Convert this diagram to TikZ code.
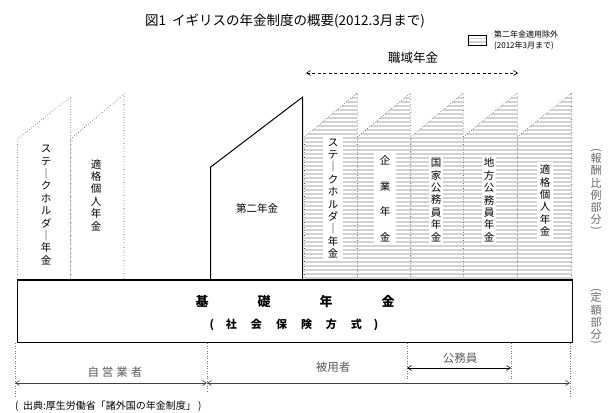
\documentclass[tikz,border=0pt]{standalone}
\usepackage{fontspec}
\setmainfont{Noto Sans CJK JP}
\usetikzlibrary{arrows.meta}
\newcommand\jpvbar{｜}
\tikzset{
  hatchline/.style={draw=black!18, line width=1.1pt},
  coledge/.style={draw=black!75, dotted, line width=0.6pt},
  secondcol/.style={draw=black, line width=1pt},
  basebox/.style={draw=black, line width=1.2pt, inner sep=0pt},
  coltext/.style={align=center, font=\fontsize{10.5}{12.4}\selectfont, inner sep=0pt},
  whitetext/.style={coltext, fill=white, inner xsep=5pt, inner ysep=3pt},
  sidelabel/.style={align=center, text=black!60, font=\fontsize{11}{12.2}\selectfont, inner sep=0pt},
  sideparen/.style={text=black!60, font=\fontsize{11}{12}\selectfont, inner sep=0pt, rotate=-90},
  graylabel/.style={text=black!65, font=\fontsize{11.5}{13}\selectfont, inner sep=0pt},
  barrow/.style={draw=black!75, line width=0.6pt, {Straight Barb[length=4pt,width=5pt]}-{Straight Barb[length=4pt,width=5pt]}},
  guide/.style={draw=black!55, dotted, line width=0.5pt}
}
\begin{document}
\begin{tikzpicture}[x=1pt,y=-1pt]
\useasboundingbox (0,0) rectangle (615,412);
% title
\node[font=\fontsize{13.5}{15}\selectfont] (title) at (285,21) {図1\ \ イギリスの年金制度の概要(2012.3月まで)};
% legend
\begin{scope}
  \clip (468,35.5) rectangle (486,45.5);
  \foreach \y in {38.5,42} \draw[hatchline] (468,\y) -- (486,\y);
\end{scope}
\draw[black, line width=0.6pt] (468,35.5) rectangle (486,45.5);
\node[anchor=west, align=left, font=\fontsize{8}{11}\selectfont, inner sep=0pt] (legend) at (494,40) {第二年金適用除外\\(2012年3月まで)};
% occupational pensions
\node[font=\fontsize{12.5}{14}\selectfont] (shokuiki) at (413,58) {職域年金};
\coordinate (sL) at (306,73);
\coordinate (sR) at (518,73);
\draw[barrow, draw=black, dashed, dash pattern=on 3pt off 2.5pt] (sL) -- (sR);
% unhatched columns
\draw[coledge] (17.3,280) -- (17.3,139) -- (70.7,97) -- (70.7,280);
\draw[coledge] (70.7,280) -- (70.7,139) -- (124,94) -- (124,280);
% second pension
\draw[secondcol] (210.7,280) -- (210.7,167) -- (302.7,97) -- (302.7,280);
% hatched columns
\foreach \a/\b in {304.5/357.3, 357.3/410.7, 410.7/463.3, 463.3/517.3, 517.3/571.7} {
  \begin{scope}
    \clip (\a,280) -- (\a,137) -- (\b,93) -- (\b,280) -- cycle;
    \foreach \y in {94,98,...,280} \draw[hatchline] (\a,\y) -- (\b,\y);
  \end{scope}
  \draw[coledge] (\a,280) -- (\a,137) -- (\b,93) -- (\b,280);
}
% column texts
\node[coltext] (c1) at (46,205) {ス\\テ\\\jpvbar\\ク\\ホ\\ル\\ダ\\\jpvbar\\年\\金};
\node[coltext] (c2) at (96,195) {適\\格\\個\\人\\年\\金};
\node[coltext] (c2nd) at (257,208) {第二年金};
\node[whitetext] (c3) at (333,198.5) {ス\\テ\\\jpvbar\\ク\\ホ\\ル\\ダ\\\jpvbar\\年\\金};
\node[whitetext, inner xsep=6pt, font=\fontsize{10.5}{25.6}\selectfont] (c4) at (385,199) {企\\業\\年\\金};
\node[whitetext, inner xsep=2pt] (c5) at (436,200) {国\\家\\公\\務\\員\\年\\金};
\node[whitetext, inner xsep=2pt] (c6) at (489,200) {地\\方\\公\\務\\員\\年\\金};
\node[whitetext, inner xsep=3pt] (c7) at (545,200.5) {適\\格\\個\\人\\年\\金};
% base box
\node[basebox, minimum width=555.4pt, minimum height=62.7pt] (base) at (295,311.35) {};
\node[font=\bfseries\fontsize{13}{15}\selectfont] (kiso) at (295,302) {基\hspace{49pt}礎\hspace{49pt}年\hspace{49pt}金};
\node[font=\bfseries\fontsize{11}{13}\selectfont] (hoshiki) at (294,325) {(\hspace{12pt}社\hspace{14pt}会\hspace{14pt}保\hspace{14pt}険\hspace{14pt}方\hspace{14pt}式\hspace{12pt})};
% side labels
\node[sideparen] (hoshuL) at (596,150) {(};
\node[sidelabel] (hoshu) at (596,189) {報\\酬\\比\\例\\部\\分};
\node[sideparen] (hoshuR) at (596,228) {)};
\node[sideparen] (teigakuL) at (596,290) {(};
\node[sidelabel] (teigaku) at (596,316) {定\\額\\部\\分};
\node[sideparen] (teigakuR) at (596,342) {)};
% guides below
\coordinate (g1t) at (15,343);   \coordinate (g1b) at (15,398);
\coordinate (g2t) at (207,343);  \coordinate (g2b) at (207,392);
\coordinate (g3t) at (407,343);  \coordinate (g3b) at (407,380);
\coordinate (g4t) at (511,343);  \coordinate (g4b) at (511,380);
\coordinate (g5t) at (570,343);  \coordinate (g5b) at (570,398);
\foreach \g in {1,...,5} \draw[guide] (g\g t) -- (g\g b);
\coordinate (a1) at (15,383);
\coordinate (a2) at (207,383);
\coordinate (a3) at (570,383);
\coordinate (k1) at (407,368);
\coordinate (k2) at (511,368);
\draw[barrow] (a1) -- (a2);
\draw[barrow] (a2) -- (a3);
\draw[barrow, draw=black] (k1) -- (k2);
\node[graylabel] (jiei) at (115,372) {自\kern3pt 営\kern3pt 業\kern3pt 者};
\node[graylabel] (hiyo) at (333,367) {被用者};
\node[graylabel] (komu) at (460,358) {公務員};
% source
\node[anchor=west, font=\fontsize{10}{12}\selectfont, inner sep=0pt] (source) at (15,406.5) {(\ \ 出典:厚生労働省「諸外国の年金制度」\ )};
\end{tikzpicture}
\end{document}
